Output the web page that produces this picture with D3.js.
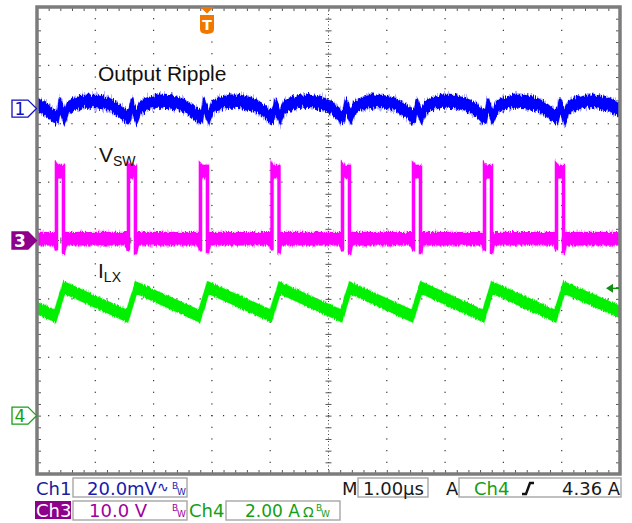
<!DOCTYPE html>
<html>
<head>
<meta charset="utf-8">
<script src="https://cdn.jsdelivr.net/npm/d3@7"></script>
<style>
body { margin: 0; background: #fff; }
svg { display: block; font-family: "DejaVu Sans", Verdana, sans-serif; }
.lbl { font-family: "Liberation Sans", Arial, sans-serif; fill: #111; }
</style>
</head>
<body>
<svg id="scope" width="632" height="523"></svg>
<script>
// rising edges of the switch node (us); first and last sit just off screen
var swStart = [-5.90, -4.666, -3.431, -2.196, -0.969, 0.240, 1.458, 2.676, 3.911, 5.146];

// Ch1 output ripple over one switching cycle: time after the edge (us) / mV
var rippleDt = [-0.03, 0.02, 0.06, 0.09, 0.14, 0.20, 0.30, 0.50, 0.70, 0.90, 1.05, 1.15, 1.20];
var rippleMv = [-2.9, -2.6, 1.5, -0.5, -2.9, 0.2, 1.5, 2.6, 2.4, 1.5, -0.2, -1.9, -2.7];

// Ch3 switch node pulse: time after the edge (us) / V
var pulseDt = [-0.03, 0.0, 0.0, 0.03, 0.12, 0.12, 0.15];
var pulseV  = [0.3, -0.8, 12.1, 11.8, 11.8, -1.4, 0.3];

// Ch4 inductor current vertices: us / A
var ilxT = [-5.0, -4.686, -4.536, -3.451, -3.301, -2.216, -2.066, -0.989, -0.839, 0.220, 0.370, 1.438, 1.588, 2.656, 2.806, 3.891, 4.041, 5.0];
var ilxA = [3.68, 3.41, 4.39, 3.41, 4.39, 3.41, 4.39, 3.42, 4.38, 3.42, 4.38, 3.41, 4.39, 3.41, 4.39, 3.41, 4.39, 3.55];

// channel setup
var chNames   = ["Ch1", "Ch3", "Ch4"];
var chLabels  = ["20.0mV", "10.0 V", "2.00 A"];
var perDiv    = [20, 10, 2];
var offsetDiv = [2.26, 0, -3.0];
var timebase  = "1.00\u00b5s";
var trigSource = "Ch4";
var trigLevel = 4.36;

var svg = d3.select("#scope");
var gLeft = 37, gRight = 620, gTop = 7, gBottom = 474;

var x = d3.scaleLinear().domain([-5, 5]).range([gLeft, gRight]);
var yDiv = d3.scaleLinear().domain([-4, 4]).range([gBottom, gTop]);
function chY(c) { return function(v) { return yDiv(v / perDiv[c] + offsetDiv[c]); }; }

var defs = svg.append("defs");
defs.append("clipPath").attr("id", "plotclip")
  .append("rect").attr("x", gLeft).attr("y", gTop).attr("width", gRight - gLeft).attr("height", gBottom - gTop);

// vertical-only jitter to fake scope noise
function noiseFilter(id, seed, scale) {
  var f = defs.append("filter").attr("id", id)
    .attr("x", "-5%").attr("y", "-60%").attr("width", "110%").attr("height", "220%")
    .attr("color-interpolation-filters", "sRGB");
  f.append("feTurbulence").attr("type", "fractalNoise").attr("baseFrequency", "0.9 0.05")
    .attr("numOctaves", 2).attr("seed", seed).attr("result", "n");
  f.append("feColorMatrix").attr("in", "n").attr("type", "matrix")
    .attr("values", "0 0 0 0 0.5  0 1 0 0 0  0 0 0 0 0  0 0 0 0 1").attr("result", "m");
  f.append("feDisplacementMap").attr("in", "SourceGraphic").attr("in2", "m")
    .attr("scale", scale).attr("xChannelSelector", "R").attr("yChannelSelector", "G");
}
noiseFilter("jb1", 3, 9);
noiseFilter("jb2", 11, 13);
noiseFilter("jm1", 5, 5);
noiseFilter("jm2", 17, 8);
noiseFilter("jg1", 7, 4);
noiseFilter("jg2", 23, 6);

// ---- graticule
var minorX = d3.range(-25, 26).map(function(k) { return k * 0.2; });
var minorY = d3.range(-20, 21).map(function(k) { return k * 0.2; });
var grid = svg.append("g");

[-4, -3, -2, -1, 1, 2, 3, 4].forEach(function(k) {
  grid.selectAll(null).data(minorY).enter().append("rect")
    .attr("x", x(k) - 0.6).attr("y", function(d) { return yDiv(d) - 0.6; })
    .attr("width", 1.2).attr("height", 1.2).attr("fill", "#333");
});
[-3, -2, -1, 1, 2, 3].forEach(function(k) {
  grid.selectAll(null).data(minorX).enter().append("rect")
    .attr("x", function(d) { return x(d) - 0.6; }).attr("y", yDiv(k) - 0.6)
    .attr("width", 1.2).attr("height", 1.2).attr("fill", "#333");
});
grid.append("line").attr("x1", gLeft).attr("x2", gRight).attr("y1", yDiv(0)).attr("y2", yDiv(0))
  .attr("stroke", "#444").attr("stroke-dasharray", "1 2.5");
grid.append("line").attr("x1", x(0)).attr("x2", x(0)).attr("y1", gTop).attr("y2", gBottom)
  .attr("stroke", "#444").attr("stroke-dasharray", "1 2.5");

function tickAxis(axis, tx, ty) {
  var g = grid.append("g").attr("transform", "translate(" + tx + "," + ty + ")")
    .call(axis.tickFormat(""));
  g.select(".domain").remove();
  g.selectAll(".tick line").attr("stroke", "#555");
}
tickAxis(d3.axisBottom(x).tickValues(minorX).tickSize(4), 0, gTop);
tickAxis(d3.axisTop(x).tickValues(minorX).tickSize(4), 0, gBottom);
tickAxis(d3.axisRight(yDiv).tickValues(minorY).tickSize(4), gLeft, 0);
tickAxis(d3.axisLeft(yDiv).tickValues(minorY).tickSize(4), gRight, 0);
tickAxis(d3.axisBottom(x).tickValues(minorX).tickSize(6), 0, yDiv(0) - 3);
tickAxis(d3.axisRight(yDiv).tickValues(minorY).tickSize(6), x(0) - 3, 0);

// ---- traces
function perCycle(dts, vals) {
  var pts = [];
  swStart.forEach(function(t0, i) {
    var next = swStart[i + 1];
    dts.forEach(function(dt, j) {
      var t = t0 + dt;
      if (next === undefined || t < next + dts[0]) pts.push({t: t, v: vals[j]});
    });
  });
  return pts;
}
var ripple = perCycle(rippleDt, rippleMv);
var vsw = perCycle(pulseDt, pulseV);
var ilx = ilxT.map(function(t, i) { return {t: t, v: ilxA[i]}; });

var traces = svg.append("g").attr("clip-path", "url(#plotclip)");
function band(data, c, half, color, sw, f1, f2) {
  var yc = chY(c);
  var area = d3.area()
    .x(function(d) { return x(d.t); })
    .y0(function(d) { return yc(d.v) + half; })
    .y1(function(d) { return yc(d.v) - half; });
  var g = traces.append("g");
  g.append("path").attr("d", area(data)).attr("fill", color).attr("stroke", color)
    .attr("stroke-width", sw + 1).attr("opacity", 0.3).attr("filter", "url(#" + f2 + ")");
  g.append("path").attr("d", area(data)).attr("fill", color).attr("stroke", color)
    .attr("stroke-width", sw).attr("filter", "url(#" + f1 + ")");
}
band(ripple, 0, 5.5, "#0000ff", 2.2, "jb1", "jb2");
band(vsw, 1, 5.2, "#ff00ff", 3.2, "jm1", "jm2");
band(ilx, 2, 4.8, "#00f000", 2.6, "jg1", "jg2");

// frame
svg.append("rect").attr("x", gLeft).attr("y", gTop).attr("width", gRight - gLeft).attr("height", gBottom - gTop)
  .attr("fill", "none").attr("stroke", "#7c7c7c").attr("stroke-width", 3.5);

// ---- trace labels
svg.append("text").attr("class", "lbl").attr("x", 98).attr("y", 80.5)
  .style("font-size", "21px").text("Output Ripple");
var vl = svg.append("text").attr("class", "lbl").attr("x", 99).attr("y", 162).style("font-size", "21px");
vl.append("tspan").text("V");
vl.append("tspan").attr("dy", 3.5).style("font-size", "14px").text("SW");
var il = svg.append("text").attr("class", "lbl").attr("x", 98).attr("y", 278).style("font-size", "21px");
il.append("tspan").text("I");
il.append("tspan").attr("dy", 4).style("font-size", "14px").text("LX");

// ---- channel reference markers
var markerCol = ["#1010c0", "#8c008c", "#14a014"];
var markerNum = ["1", "3", "4"];
offsetDiv.forEach(function(o, c) {
  var cy = yDiv(o);
  var g = svg.append("g").attr("transform", "translate(0," + cy + ")");
  var filled = c === 1;
  g.append("path").attr("d", "M12,-8.5 L28,-8.5 L36.5,0 L28,8.5 L12,8.5 Z")
    .attr("fill", filled ? markerCol[c] : "#fff").attr("stroke", markerCol[c]).attr("stroke-width", 1.3);
  g.append("text").attr("x", 20).attr("y", 6.5).attr("text-anchor", "middle")
    .style("font-size", "17px").attr("fill", filled ? "#fff" : markerCol[c])
    .style("font-weight", filled ? "bold" : "normal").text(markerNum[c]);
});

// trigger position marker
var trg = svg.append("g").attr("transform", "translate(207,0)");
trg.append("path").attr("d", "M-7,7 L7,7 L0,13.5 Z").attr("fill", "#f07800");
trg.append("path").attr("d", "M-7,15 L7,15 L7,29 Q7,33 3,33.5 L0,34 L-3,33.5 Q-7,33 -7,29 Z").attr("fill", "#f07800");
trg.append("text").attr("x", 0).attr("y", 30).attr("text-anchor", "middle")
  .style("font-size", "14px").style("font-weight", "bold").attr("fill", "#fff").text("T");

// trigger level arrow (Ch4)
var trigY = chY(2)(trigLevel);
svg.append("path").attr("d", "M606," + trigY + " L613," + (trigY - 4.5) + " L613," + (trigY + 4.5) + " Z").attr("fill", "#129012");
svg.append("line").attr("x1", 612).attr("x2", 619).attr("y1", trigY).attr("y2", trigY)
  .attr("stroke", "#129012").attr("stroke-width", 1.5);

// ---- readout
var ro = svg.append("g").style("font-size", "18px");
function box(x0, y0, w, h) {
  ro.append("rect").attr("x", x0).attr("y", y0).attr("width", w).attr("height", h)
    .attr("fill", "#fff").attr("stroke", "#a6a6a6").attr("stroke-width", 1.4);
}
function txt(x0, y0, s, col, size) {
  return ro.append("text").attr("x", x0).attr("y", y0).attr("fill", col)
    .style("font-size", size || "18px").text(s);
}
function bw(x0, y0, col) {
  txt(x0, y0, "B", col, "9px");
  txt(x0 + 5, y0 + 6, "W", col, "9px");
}

// row 1
txt(36, 495, chNames[0], "#1c1c9c");
box(73, 478, 114, 19);
txt(87, 495, chLabels[0], "#1a1ab0");
txt(157, 492, "\u223f", "#1a1ab0", "14px");
bw(172, 489, "#1a1ab0");
txt(342, 495, "M", "#1a1a1a");
box(358, 478, 70, 19);
txt(363, 495, timebase, "#1a1a1a");
txt(446, 495, "A", "#1a1a1a");
box(459, 478, 162, 19);
txt(474, 495, trigSource, "#14a014");
ro.append("path").attr("d", "M522,494 L526,494 L530,483 L534,483")
  .attr("fill", "none").attr("stroke", "#111").attr("stroke-width", 2.4);
txt(562, 495, trigLevel.toFixed(2) + " A", "#1a1a1a");

// row 2
ro.append("rect").attr("x", 35).attr("y", 501).attr("width", 36).attr("height", 18).attr("fill", "#8c008c");
txt(36, 517, chNames[1], "#fff");
box(73, 501, 114, 19);
txt(89, 517, chLabels[1], "#a000a0");
bw(172, 511, "#a000a0");
txt(189, 517, chNames[2], "#14a014");
box(226, 501, 114, 19);
txt(245, 517, chLabels[2], "#14a014", "17px");
txt(303, 517, "\u03a9", "#14a014", "14px");
bw(316, 511, "#14a014");
</script>
</body>
</html>
